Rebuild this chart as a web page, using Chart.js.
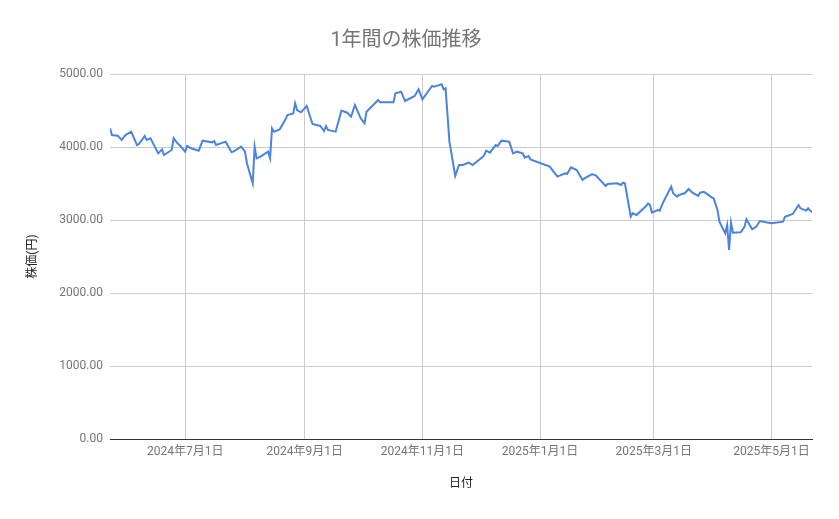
<!DOCTYPE html>
<html lang="ja">
<head>
<meta charset="utf-8">
<title>1年間の株価推移</title>
<script src="https://cdn.jsdelivr.net/npm/chart.js@4"></script>
<style>
    body { margin: 0; background: #ffffff; }
    #wrap { width: 839px; height: 519px; position: relative; }
</style>
</head>
<body>
<div id="wrap"><canvas id="priceChart"></canvas></div>
<script>
// 日付と終値
const dates = [
    '2024-05-23','2024-05-24','2024-05-27','2024-05-29','2024-05-31','2024-06-03','2024-06-06','2024-06-07',
    '2024-06-10','2024-06-11','2024-06-13','2024-06-17','2024-06-19','2024-06-20','2024-06-24','2024-06-25',
    '2024-06-27','2024-06-28','2024-07-01','2024-07-02','2024-07-04','2024-07-08','2024-07-10','2024-07-15',
    '2024-07-16','2024-07-17','2024-07-22','2024-07-25','2024-07-26','2024-07-30','2024-08-01','2024-08-02',
    '2024-08-05','2024-08-06','2024-08-07','2024-08-09','2024-08-13','2024-08-14','2024-08-15','2024-08-16',
    '2024-08-19','2024-08-22','2024-08-23','2024-08-26','2024-08-27','2024-08-28','2024-08-30','2024-09-02',
    '2024-09-05','2024-09-09','2024-09-11','2024-09-12','2024-09-13','2024-09-17','2024-09-20','2024-09-23',
    '2024-09-25','2024-09-27','2024-09-30','2024-10-02','2024-10-03','2024-10-07','2024-10-09','2024-10-10',
    '2024-10-17','2024-10-18','2024-10-21','2024-10-23','2024-10-28','2024-10-30','2024-11-01','2024-11-06',
    '2024-11-07','2024-11-11','2024-11-12','2024-11-13','2024-11-15','2024-11-18','2024-11-20','2024-11-22',
    '2024-11-25','2024-11-27','2024-12-02','2024-12-03','2024-12-04','2024-12-06','2024-12-09','2024-12-10',
    '2024-12-12','2024-12-16','2024-12-18','2024-12-20','2024-12-23','2024-12-24','2024-12-26','2024-12-27',
    '2025-01-06','2025-01-08','2025-01-10','2025-01-14','2025-01-15','2025-01-17','2025-01-20','2025-01-23',
    '2025-01-24','2025-01-27','2025-01-28','2025-01-30','2025-02-04','2025-02-05','2025-02-10','2025-02-12',
    '2025-02-13','2025-02-14','2025-02-17','2025-02-18','2025-02-20','2025-02-25','2025-02-26','2025-02-27',
    '2025-02-28','2025-03-03','2025-03-04','2025-03-06','2025-03-10','2025-03-11','2025-03-13','2025-03-14',
    '2025-03-17','2025-03-19','2025-03-21','2025-03-24','2025-03-25','2025-03-27','2025-03-31','2025-04-01',
    '2025-04-03','2025-04-04','2025-04-07','2025-04-08','2025-04-09','2025-04-10','2025-04-11','2025-04-15',
    '2025-04-17','2025-04-18','2025-04-21','2025-04-23','2025-04-25','2025-04-28','2025-05-01','2025-05-07',
    '2025-05-08','2025-05-12','2025-05-15','2025-05-16','2025-05-19','2025-05-20','2025-05-22'
];

const prices = [
    4256, 4164, 4155, 4096, 4164, 4210, 4027, 4040,
    4150, 4096, 4119, 3913, 3968, 3890, 3959, 4119,
    4050, 4027, 3936, 4014, 3982, 3950, 4087, 4064,
    4082, 4027, 4073, 3930, 3936, 4005, 3936, 3777,
    3502, 4005, 3845, 3868, 3936, 3845, 4256, 4210,
    4242, 4379, 4438, 4461, 4598, 4507, 4475, 4562,
    4315, 4288, 4219, 4288, 4233, 4210, 4498, 4470,
    4416, 4575, 4393, 4324, 4484, 4589, 4644, 4612,
    4612, 4735, 4758, 4630, 4699, 4790, 4653, 4836,
    4826, 4859, 4790, 4804, 4073, 3603, 3753, 3753,
    3785, 3753, 3858, 3886, 3950, 3922, 4027, 4014,
    4087, 4073, 3913, 3936, 3913, 3854, 3877, 3831,
    3731, 3662, 3594, 3639, 3630, 3721, 3685, 3548,
    3571, 3616, 3630, 3607, 3466, 3493, 3502, 3480,
    3511, 3502, 3045, 3091, 3068, 3192, 3228, 3205,
    3100, 3137, 3128, 3251, 3457, 3366, 3320, 3343,
    3366, 3425, 3374, 3329, 3374, 3385, 3311, 3297,
    3137, 2977, 2818, 2932, 2589, 2963, 2826, 2831,
    2908, 3009, 2872, 2908, 2986, 2968, 2955, 2977,
    3045, 3082, 3205, 3160, 3128, 3160, 3105
];

// 横軸の目盛り（各月の1日）
const tickDates = ['2024-07-01', '2024-09-01', '2024-11-01', '2025-01-01', '2025-03-01', '2025-05-01'];
const yTicks = [0, 1000, 2000, 3000, 4000, 5000];

const FONT = 'Roboto, "Noto Sans CJK JP", sans-serif';
const DAY = 86400000;

function toDay(s) {
    const [y, m, d] = s.split('-').map(Number);
    return Date.UTC(y, m - 1, d) / DAY;
}

function formatDay(v) {
    const dt = new Date(v * DAY);
    return `${dt.getUTCFullYear()}年${dt.getUTCMonth() + 1}月${dt.getUTCDate()}日`;
}

const points = dates.map((d, i) => ({ x: toDay(d), y: prices[i] }));
const tickDays = tickDates.map(toDay);

const ctx = document.getElementById('priceChart').getContext('2d');

new Chart(ctx, {
    type: 'line',
    data: {
        datasets: [{
            label: '株価',
            data: points,
            borderColor: '#4a84dc',
            backgroundColor: '#4a84dc',
            borderWidth: 2,
            pointRadius: 0,
            tension: 0
        }]
    },
    options: {
        responsive: true,
        maintainAspectRatio: false,
        animation: false,
        layout: { padding: { left: 0, right: 27, top: 0, bottom: 0 } },
        plugins: {
            legend: { display: false },
            tooltip: { enabled: false },
            title: {
                display: true,
                text: '1年間の株価推移',
                color: '#757575',
                font: { family: FONT, size: 20, weight: 'normal' },
                padding: { top: 29, bottom: 21 }
            }
        },
        scales: {
            x: {
                type: 'linear',
                min: toDay(dates[0]),
                max: toDay(dates[dates.length - 1]),
                afterBuildTicks: scale => {
                    scale.ticks = tickDays.map(v => ({ value: v }));
                },
                afterFit: scale => { scale.height = 80; },
                ticks: {
                    autoSkip: false,
                    maxRotation: 0,
                    padding: 6,
                    color: '#757575',
                    font: { family: FONT, size: 12 },
                    callback: v => formatDay(v)
                },
                grid: { color: '#cccccc', drawTicks: false },
                border: { display: true, color: '#333333', width: 1 },
                title: {
                    display: true,
                    text: '日付',
                    color: '#222222',
                    font: { family: FONT, size: 12 },
                    padding: { top: 0, bottom: 28 }
                }
            },
            y: {
                min: 0,
                max: 5000,
                afterBuildTicks: scale => {
                    scale.ticks = yTicks.map(v => ({ value: v }));
                },
                afterFit: scale => { scale.width = 110; },
                ticks: {
                    padding: 7,
                    color: '#757575',
                    font: { family: FONT, size: 12 },
                    callback: v => Number(v).toFixed(2)
                },
                grid: {
                    drawTicks: false,
                    color: c => (c.tick && c.tick.value === 0) ? '#333333' : '#cccccc'
                },
                border: { display: false },
                title: {
                    display: true,
                    text: '株価(円)',
                    color: '#222222',
                    font: { family: FONT, size: 12 },
                    padding: { top: 26, bottom: 0 }
                }
            }
        }
    }
});
</script>
</body>
</html>
